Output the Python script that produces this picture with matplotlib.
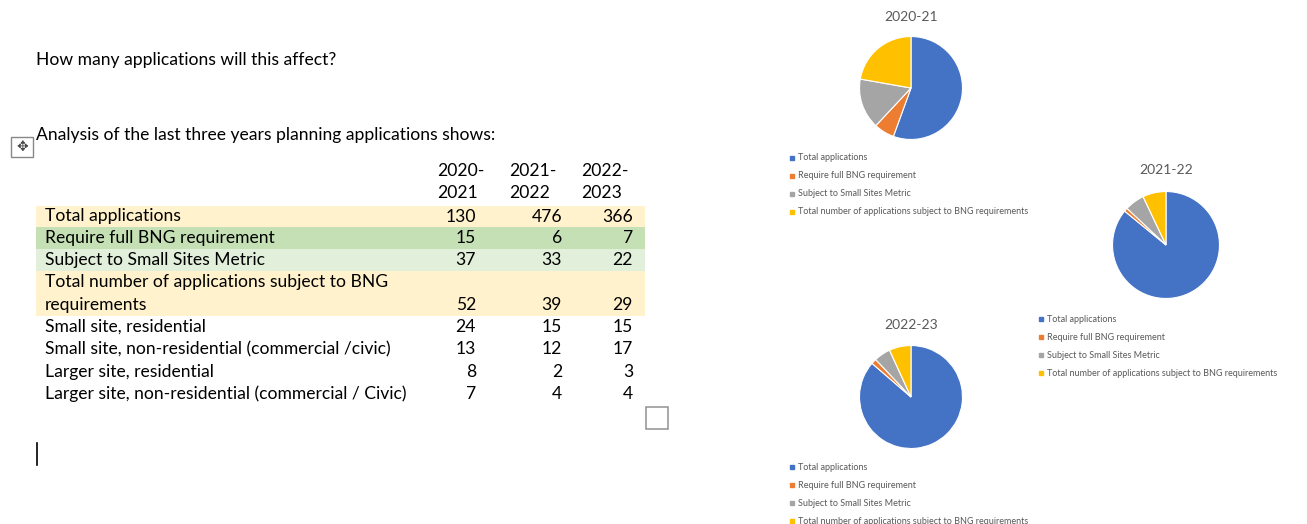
import matplotlib
matplotlib.use('Agg')
import matplotlib.pyplot as plt
from matplotlib.patches import Rectangle

# data
years = ['2020-\n2021', '2021-\n2022', '2022-\n2023']
row_labels = ['Total applications', 'Require full BNG requirement', 'Subject to Small Sites Metric',
              'Total number of applications subject to BNG\nrequirements',
              'Small site, residential', 'Small site, non-residential (commercial /civic)',
              'Larger site, residential', 'Larger site, non-residential (commercial / Civic)']
v2021 = [130, 15, 37, 52, 24, 13, 8, 7]
v2122 = [476, 6, 33, 39, 15, 12, 2, 4]
v2223 = [366, 7, 22, 29, 15, 17, 3, 4]
row_colors = ['#FFF2CC', '#C5E0B4', '#E2EFDA', '#FFF2CC', None, None, None, None]

pie_titles = ['2020-21', '2021-22', '2022-23']
pie_labels = ['Total applications', 'Require full BNG requirement', 'Subject to Small Sites Metric',
              'Total number of applications subject to BNG requirements']
pie_colors = ['#4472C4', '#ED7D31', '#A5A5A5', '#FFC000']

W, H = 1307, 524
fig = plt.figure(figsize=(W / 100, H / 100), dpi=100)
plt.rcParams['font.family'] = ['Lato', 'DejaVu Sans']
ax = fig.add_axes([0, 0, 1, 1])
ax.set_xlim(0, W)
ax.set_ylim(H, 0)
ax.axis('off')

fs = 12.6
ax.text(36, 60, 'How many applications will this affect?', fontsize=fs, va='center')
ax.text(36, 135, 'Analysis of the last three years planning applications shows:', fontsize=fs, va='center')
# move handle + end-of-table box + cursor
ax.add_patch(Rectangle((11, 137), 22, 20, fill=False, ec='#888888', lw=1))
ax.text(22, 147, '\u2725', fontsize=10, ha='center', va='center', color='#444444', family='DejaVu Sans')
ax.add_patch(Rectangle((646, 407), 22, 22, fill=False, ec='#999999', lw=1.2))
ax.plot([37, 37], [443, 465], color='black', lw=1.2)

# header
col_x = [476, 562, 633]
head_x = [437, 509, 581]
for x, y in zip(head_x, years):
    ax.text(x, 182, y, fontsize=fs, va='center', ha='left', linespacing=1.45)

# rows
row_tops = [206, 227, 249, 271, 316, 338, 361, 383]
row_bots = [227, 249, 271, 316, 338, 361, 383, 405]
cols = list(zip(v2021, v2122, v2223))
for i, lab in enumerate(row_labels):
    top, bot = row_tops[i], row_bots[i]
    if row_colors[i]:
        ax.add_patch(Rectangle((36, top), 609, bot - top, color=row_colors[i], lw=0))
    if '\n' in lab:
        ax.text(45, top + 11.5, lab.split('\n')[0], fontsize=fs, va='center')
        ax.text(45, bot - 11, lab.split('\n')[1], fontsize=fs, va='center')
        ty = bot - 11
    else:
        ty = (top + bot) / 2
        ax.text(45, ty, lab, fontsize=fs, va='center')
    for x, v in zip(col_x, cols[i]):
        ax.text(x, ty, str(v), fontsize=fs, va='center', ha='right')

# pies
pie_vals = [v2021[:4], v2122[:4], v2223[:4]]
centers = [(911, 88, 52), (1166, 245, 54), (911, 397, 52)]
title_y = [17, 170, 325]
legend_pos = [(792, 158), (1041, 319), (792, 467)]
for vals, (cx, cy, r), t, ty, (lx, ly) in zip(pie_vals, centers, pie_titles, title_y, legend_pos):
    pax = fig.add_axes([(cx - r) / W, 1 - (cy + r) / H, 2 * r / W, 2 * r / H])
    pax.pie(vals, colors=pie_colors, startangle=90, counterclock=False,
            wedgeprops=dict(edgecolor='white', linewidth=0.8))
    pax.set_xlim(-1.01, 1.01)
    pax.set_ylim(-1.01, 1.01)
    ax.text(cx, ty, t, fontsize=10, color='#595959', ha='center', va='center')
    for k, (lab, c) in enumerate(zip(pie_labels, pie_colors)):
        yy = ly + k * 18
        ax.plot(lx, yy, marker='s', ms=2.5, color=c, ls='none')
        ax.text(lx + 6, yy, lab, fontsize=6.5, color='#595959', va='center')

fig.savefig('out.png', dpi=100)
